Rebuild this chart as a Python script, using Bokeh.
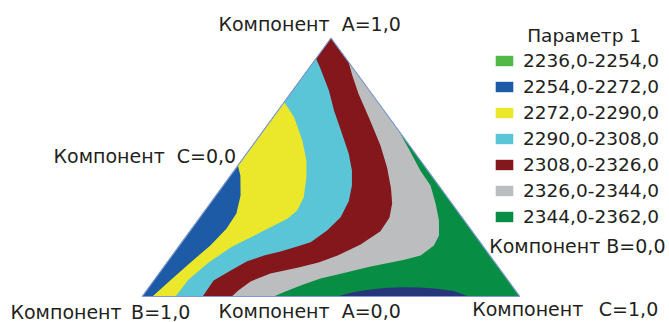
from bokeh.plotting import figure
from bokeh.models import Range1d, Legend, LegendItem, Label
from bokeh.core.properties import value
from bokeh.embed import file_html
from bokeh.resources import INLINE

# Legend classes of "Параметр 1" and their fill colours
ranges = ["2236,0-2254,0", "2254,0-2272,0", "2272,0-2290,0", "2290,0-2308,0",
          "2308,0-2326,0", "2326,0-2344,0", "2344,0-2362,0"]
colors = ["#52b848", "#1d5ba6", "#ebe82c", "#59c5d6", "#84171c", "#bcbdbf", "#078e44"]
pocket_color = "#27367a"

# Iso-lines as component fractions (A, C); B = 1 - A - C
iso_2272_a = [0.507, 0.468, 0.391, 0.321, 0.263, 0.197, 0.132, 0.070, 0.0]
iso_2272_c = [0.000, 0.026, 0.065, 0.089, 0.092, 0.082, 0.062, 0.045, 0.027]

iso_2290_a = [0.752, 0.694, 0.604, 0.526, 0.462, 0.384, 0.333, 0.301, 0.252, 0.193, 0.132, 0.066, 0.0]
iso_2290_c = [0.000, 0.055, 0.122, 0.172, 0.204, 0.236, 0.244, 0.234, 0.193, 0.142, 0.110, 0.090, 0.088]

iso_2308_a = [0.921, 0.882, 0.797, 0.720, 0.629, 0.552, 0.487, 0.429, 0.368, 0.307, 0.255,
              0.210, 0.193, 0.174, 0.159, 0.135, 0.101, 0.062, 0.0]
iso_2308_c = [0.000, 0.031, 0.096, 0.148, 0.215, 0.271, 0.312, 0.341, 0.363, 0.372, 0.362,
              0.341, 0.314, 0.279, 0.243, 0.209, 0.184, 0.158, 0.160]

iso_2326_a = [0.907, 0.855, 0.785, 0.685, 0.584, 0.499, 0.418, 0.360, 0.306, 0.252, 0.201,
              0.159, 0.132, 0.112, 0.089, 0.058, 0.023, 0.0]
iso_2326_c = [0.093, 0.129, 0.180, 0.260, 0.339, 0.399, 0.450, 0.482, 0.502, 0.505, 0.478,
              0.438, 0.401, 0.358, 0.295, 0.258, 0.243, 0.237]

iso_2344_a = [0.642, 0.573, 0.487, 0.429, 0.360, 0.294, 0.236, 0.197, 0.159, 0.141, 0.116,
              0.085, 0.070, 0.043, 0.019, 0.0]
iso_2344_c = [0.358, 0.419, 0.493, 0.549, 0.597, 0.639, 0.668, 0.674, 0.658, 0.621, 0.547,
              0.475, 0.437, 0.398, 0.370, 0.348]

# Low-value pocket along the A = 0 side
pocket_a = [0.0, 0.017, 0.027, 0.034, 0.036, 0.035, 0.030, 0.021, 0.0]
pocket_c = [0.516, 0.552, 0.591, 0.632, 0.675, 0.720, 0.766, 0.815, 0.864]

corner_labels = ["Компонент\u00a0\u00a0A=1,0", "Компонент\u00a0\u00a0C=0,0", "Компонент\u2002B=1,0",
                 "Компонент\u00a0\u00a0A=0,0", "Компонент\u2002 C=1,0", "Компонент B=0,0"]


def to_xy(a, c):
    """Ternary (A, C) -> plane: B=1 at (0,0), C=1 at (1,0), A=1 at (0.5,1)."""
    return [ci + ai / 2 for ai, ci in zip(a, c)], list(a)


TOP, LEFT, RIGHT = (0.5, 1.0), (0.0, 0.0), (1.0, 0.0)

p = figure(width=669, height=322, output_backend="svg", toolbar_location=None,
           x_range=Range1d(-0.3753, 1.3965), y_range=Range1d(-0.1006, 1.1451),
           x_axis_location=None, y_axis_location=None, min_border=0,
           background_fill_color="white", border_fill_color="white")
p.grid.visible = False
p.outline_line_color = None

renderers = {}
# class with no area inside the diagram: a degenerate patch that only feeds the legend swatch
renderers[0] = p.patch(x=[TOP[0]] * 3, y=[TOP[1]] * 3, fill_color=colors[0], line_color=None)

# highest band fills the whole triangle, lower bands are laid over it
renderers[6] = p.patch(x=[TOP[0], LEFT[0], RIGHT[0]], y=[TOP[1], LEFT[1], RIGHT[1]],
                       fill_color=colors[6], line_color=None)

for idx, (a, c) in [(5, (iso_2344_a, iso_2344_c)), (4, (iso_2326_a, iso_2326_c))]:
    xs, ys = to_xy(a, c)
    renderers[idx] = p.patch(x=xs + [LEFT[0], TOP[0]], y=ys + [LEFT[1], TOP[1]],
                             fill_color=colors[idx], line_color=None)

for idx, (a, c) in [(3, (iso_2308_a, iso_2308_c)), (2, (iso_2290_a, iso_2290_c)),
                    (1, (iso_2272_a, iso_2272_c))]:
    xs, ys = to_xy(a, c)
    renderers[idx] = p.patch(x=xs + [LEFT[0]], y=ys + [LEFT[1]],
                             fill_color=colors[idx], line_color=None)

px_, py_ = to_xy(pocket_a, pocket_c)
p.patch(x=px_, y=py_, fill_color=pocket_color, line_color=None)

# triangle outline
p.line(x=[LEFT[0], TOP[0], RIGHT[0], LEFT[0]], y=[LEFT[1], TOP[1], RIGHT[1], LEFT[1]],
       line_color="#7d98d2", line_width=1.2)

# corner / side captions, anchored on the triangle
lab_x = [TOP[0], 0.25, LEFT[0], 0.5, RIGHT[0], 0.875]
lab_y = [TOP[1], 0.5, LEFT[1], 0.0, RIGHT[1], 0.25]
lab_dx = [-112.5, -183, -131.7, -112.5, -47.6, 16.6]
lab_dy = [-14, -11.5, 15.8, 14.2, 12.5, 13.8]
p.text(x=lab_x, y=lab_y, text=corner_labels, x_offset=lab_dx, y_offset=lab_dy,
       text_font=value("DejaVu Sans"), text_font_size="19px", text_color="#231f20",
       text_align="left", text_baseline="alphabetic")

legend = Legend(items=[LegendItem(label=ranges[i], renderers=[renderers[i]]) for i in range(7)],
                location=(493, 95), orientation="vertical", padding=0, margin=0, spacing=5,
                glyph_width=22, glyph_height=13, label_standoff=8,
                label_text_font="DejaVu Sans", label_text_font_size="18.5px",
                label_text_color="#231f20", border_line_color=None, background_fill_alpha=0)
p.add_layout(legend)

p.add_layout(Label(x=526.7, y=286.8, x_units="screen", y_units="screen", text="Параметр 1",
                   text_font="DejaVu Sans", text_font_size="18.5px", text_color="#231f20",
                   text_baseline="alphabetic"))

open("out.html", "w").write(file_html(p, INLINE))
